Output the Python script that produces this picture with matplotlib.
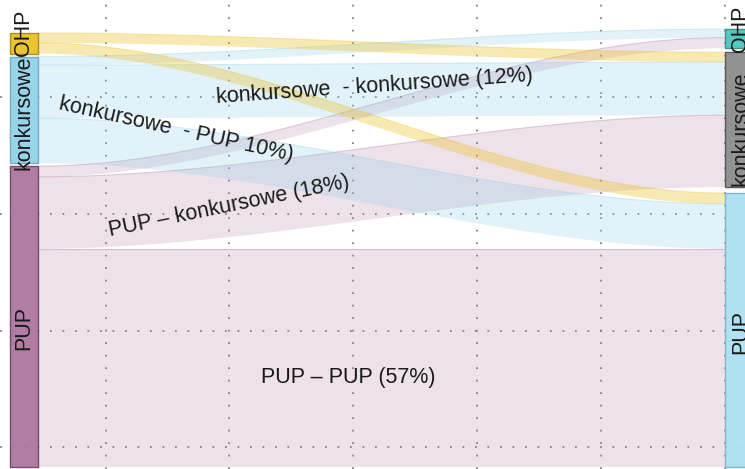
import matplotlib
matplotlib.use("Agg")
import matplotlib.pyplot as plt
from matplotlib.patches import Rectangle, Polygon
import numpy as np

plt.rcParams['font.family'] = ['Liberation Sans', 'DejaVu Sans']

# ---------------- data ----------------
nodes = ['OHP', 'konkursowe', 'PUP']          # top to bottom
flow_from = ['OHP', 'OHP', 'konkursowe', 'konkursowe', 'konkursowe', 'PUP', 'PUP', 'PUP']
flow_to = ['konkursowe', 'PUP', 'OHP', 'konkursowe', 'PUP', 'OHP', 'konkursowe', 'PUP']
flow_values = [2.3, 2.5, 2.0, 12.4, 10.5, 2.5, 16.8, 51.0]

flow_labels = ['konkursowe  - konkursowe (12%)', 'konkursowe  - PUP 10%)',
               'PUP \u2013 konkursowe (18%)', 'PUP \u2013 PUP (57%)']

# ---------------- styles ----------------
W, H = 745, 469
left_fill = {'OHP': '#E8C023', 'konkursowe': '#8FD0E8', 'PUP': '#AC739E'}
left_edge = {'OHP': '#A88A18', 'konkursowe': '#6FA8BE', 'PUP': '#6E4566'}
right_fill = {'OHP': '#47C6BA', 'konkursowe': '#8A8A8A', 'PUP': '#A9DFF0'}
right_edge = {'OHP': '#2F8E86', 'konkursowe': '#505050', 'PUP': '#7DB3C6'}
flow_col = {'OHP': '#EDC22E', 'konkursowe': '#8FD0E8', 'PUP': '#B07AA2'}
flow_alpha = {'OHP': 0.36, 'konkursowe': 0.26, 'PUP': 0.22}

left_gaps = [0.7, 0.7]      # between OHP/konk, konk/PUP
right_gaps = [0.93, 1.4]
bar_w = 28 / 715

# pixel -> data helpers (layout only)
def px_x(p):
    return 1 + (p - 24) / 715

def px_y(p):
    return (467 - p) / 4.28

fig = plt.figure(figsize=(W / 100, H / 100), dpi=100)
ax = fig.add_axes([0, 0, 1, 1])
ax.set_xlim(px_x(0), px_x(W))
ax.set_ylim(px_y(H), px_y(0))

# grid
ax.set_xticks([px_x(p) for p in [106, 229, 353, 477, 601, 725]])
ax.set_yticks([px_y(p) for p in [97, 214, 331, 447]])
ax.grid(True, color='#7a7a7a', linestyle=(0, (1, 6.2)), linewidth=1.25, zorder=0)
ax.set_axisbelow(True)
ax.tick_params(length=0, labelbottom=False, labelleft=False)
for s in ax.spines.values():
    s.set_visible(False)

# ---------------- node extents ----------------
def node_extents(side_totals, gaps):
    ext = {}
    y = 0.0
    order = nodes[::-1]  # bottom up
    gaps_bu = gaps[::-1]
    for i, n in enumerate(order):
        ext[n] = (y, y + side_totals[n])
        y += side_totals[n]
        if i < len(gaps_bu):
            y += gaps_bu[i]
    return ext

left_tot = {n: sum(v for f, v in zip(flow_from, flow_values) if f == n) for n in nodes}
right_tot = {n: sum(v for t, v in zip(flow_to, flow_values) if t == n) for n in nodes}
left_ext = node_extents(left_tot, left_gaps)
right_ext = node_extents(right_tot, right_gaps)

# flow segment positions (stacked from top within each node)
left_cur = {n: left_ext[n][1] for n in nodes}
right_cur = {n: right_ext[n][1] for n in nodes}
segs = {}
for n in nodes:
    for d in nodes:
        for i, (f, t, v) in enumerate(zip(flow_from, flow_to, flow_values)):
            if f == n and t == d:
                top = left_cur[n]
                left_cur[n] -= v
                segs.setdefault(i, {})['L'] = (left_cur[n], top)
for n in nodes:
    for s_ in nodes:
        for i, (f, t, v) in enumerate(zip(flow_from, flow_to, flow_values)):
            if t == n and f == s_:
                top = right_cur[n]
                right_cur[n] -= v
                segs[i]['R'] = (right_cur[n], top)

x0 = 1 + bar_w / 2
x1 = 2 - bar_w / 2
t = np.linspace(0, 1, 200)
sm = 3 * t ** 2 - 2 * t ** 3
xs = x0 + (x1 - x0) * t

draw_order = [7, 6, 5, 4, 3, 2, 1, 0]
for i in draw_order:
    (lb, lt), (rb, rt) = segs[i]['L'], segs[i]['R']
    top = lt + (rt - lt) * sm
    bot = lb + (rb - lb) * sm
    pts = np.vstack([np.column_stack([xs, top]), np.column_stack([xs[::-1], bot[::-1]])])
    c = flow_col[flow_from[i]]
    ax.add_patch(Polygon(pts, closed=True, facecolor=c, alpha=flow_alpha[flow_from[i]],
                         edgecolor='none', zorder=1))
    ax.plot(xs, top, color=c, alpha=0.35, lw=0.8, zorder=1)

# bars
for n in nodes:
    b, tp = left_ext[n]
    ax.add_patch(Rectangle((1 - bar_w / 2, b), bar_w, tp - b, facecolor=left_fill[n],
                           edgecolor=left_edge[n], lw=1.0, alpha=0.93, zorder=2))
    b, tp = right_ext[n]
    ax.add_patch(Rectangle((2 - bar_w / 2, b), bar_w, tp - b, facecolor=right_fill[n],
                           edgecolor=right_edge[n], lw=1.0, alpha=0.93, zorder=2))

# node labels (the right-hand ones run off the edge, as in the original crop)
left_label_px = {'OHP': 33, 'konkursowe': 113, 'PUP': 328}
right_label_px = {'OHP': 29, 'konkursowe': 129, 'PUP': 332}
for n in nodes:
    ax.text(px_x(24), px_y(left_label_px[n]), n, rotation=90, ha='center', va='center',
            fontsize=15.5, color='#1a1a1a', zorder=4)
    ax.text(px_x(741), px_y(right_label_px[n]), n, rotation=90, ha='center', va='center',
            fontsize=15.5, color='#1a1a1a', zorder=4)

# flow labels
label_pos = [(375, 86, 4.0), (176, 130, -12.5), (229, 206, 11.5), (348, 377, 0)]
for txt, (px, py, rot) in zip(flow_labels, label_pos):
    ax.text(px_x(px), px_y(py), txt, rotation=rot, rotation_mode='anchor',
            ha='center', va='center', fontsize=15.5, color='#1a1a1a', zorder=4)

fig.savefig('out.png', dpi=100)
